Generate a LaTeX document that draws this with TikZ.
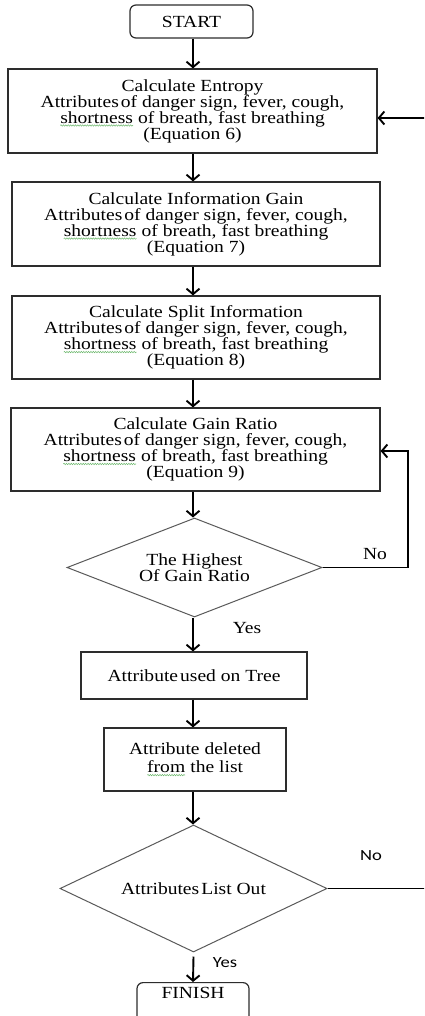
\documentclass[tikz,border=0pt]{standalone}
\usepackage{fontspec}
\setmainfont{Liberation Serif}[FakeStretch=1.15]
\newfontfamily\lblfont{Carlito}[FakeStretch=1.2]
\usetikzlibrary{shapes.geometric,arrows.meta,decorations.pathmorphing}
\definecolor{boxgray}{RGB}{45,45,45}
\definecolor{diagray}{RGB}{90,90,90}
\definecolor{squigcol}{RGB}{110,185,110}
\newcommand\squiggly[1]{\tikz[baseline=(sq.base)]{\node[shape=rectangle, draw=none, fill=none, inner sep=0pt, outer sep=0pt, minimum width=0pt, minimum height=0pt] (sq) {#1};\draw[squigline] ([yshift=-2.4pt]sq.base west) -- ([yshift=-2.4pt]sq.base east);}}
\newcommand\nsp{\hspace{0.12em}}
\tikzset{
  squigline/.style={draw=squigcol, line width=0.5pt, decorate, decoration={snake, amplitude=0.7pt, segment length=2.4pt}},
  txt/.style={font=\fontsize{17}{16}\selectfont},
  box/.style={draw=boxgray, line width=1.2pt, align=center, inner sep=0pt, txt},
  term/.style={box, rounded corners=6pt},
  dec/.style={diamond, draw=diagray, line width=1pt, align=center, inner sep=0pt, shape aspect=2.5, txt},
  arr/.style={draw=black, line width=1.9pt, -{Straight Barb[length=5.5pt,width=13pt]}},
  serlbl/.style={inner sep=0pt, txt},
  sanslbl/.style={inner sep=0pt, font=\lblfont\fontsize{15.5}{16}\selectfont}
}
\begin{document}
\begin{tikzpicture}[x=1pt,y=-1pt]
\useasboundingbox (0,0) rectangle (424,1016);
\clip (0,0) rectangle (424,1016);
\fill[white] (0,0) rectangle (424,1016);

\node[term, minimum width=123pt, minimum height=33pt] (start) at (191.5,21.5) {START};

\node[box, minimum width=369pt, minimum height=84pt] (b1) at (192.5,111)
  {Calculate Entropy\\Attributes\nsp of danger sign, fever, cough,\\\squiggly{shortness} of breath, fast breathing\\(Equation 6)};
\node[box, minimum width=368pt, minimum height=84pt] (b2) at (196,224)
  {Calculate Information Gain\\Attributes\nsp of danger sign, fever, cough,\\\squiggly{shortness} of breath, fast breathing\\(Equation 7)};
\node[box, minimum width=368pt, minimum height=83pt] (b3) at (196,337.5)
  {Calculate Split Information\\Attributes\nsp of danger sign, fever, cough,\\\squiggly{shortness} of breath, fast breathing\\(Equation 8)};
\node[box, minimum width=369pt, minimum height=83pt] (b4) at (195.5,449.5)
  {Calculate Gain Ratio\\Attributes\nsp of danger sign, fever, cough,\\\squiggly{shortness} of breath, fast breathing\\(Equation 9)};

\node[dec, minimum width=255pt, minimum height=99pt] (d1) at (194.5,567.5)
  {The Highest\\Of Gain Ratio};

\node[box, minimum width=226pt, minimum height=47pt] (b5) at (194,675.5)
  {Attribute\nsp used on Tree};
\node[box, minimum width=182pt, minimum height=63pt, font=\fontsize{17}{18}\selectfont] (b6) at (195,759.5)
  {Attribute deleted\\\squiggly{from} the list};

\node[dec, minimum width=267pt, minimum height=127pt] (d2) at (193.5,888.5)
  {Attributes\nsp List Out};

\node[term, anchor=north, minimum width=112pt, text height=15.5pt, text depth=25pt] (fin) at (193,982) {FINISH};

% main flow
\draw[arr] (start.south -| 193,0) -- (b1.north -| 193,0);
\draw[arr] (b1.south -| 193,0) -- (b2.north -| 193,0);
\draw[arr] (b2.south -| 193,0) -- (b3.north -| 193,0);
\draw[arr] (b3.south -| 193,0) -- (b4.north -| 193,0);
\draw[arr] (b4.south -| 193,0) -- (d1.north -| 193,0);
\draw[arr] (d1.south -| 193,0) -- (b5.north -| 193,0);
\draw[arr] (b5.south -| 193,0) -- (b6.north -| 193,0);
\draw[arr] (b6.south -| 193,0) -- (d2.north -| 193,0);
\draw[arr] ([yshift=-4pt]d2.south) -- (fin.north);

% loop from first decision
\coordinate (in4) at ([yshift=-1.5pt]b4.east);
\draw[arr] (d1.east) -- (408,567.5) |- (in4);
\node[serlbl] (no1) at (375,554) {No};
\node[serlbl] (yes1) at (247,628) {Yes};

% loop from second decision
\coordinate (out2) at (428,888.5);
\coordinate (in1) at ([yshift=-7pt]b1.east);
\draw[arr] (d2.east) -- (out2) |- (in1);
\node[sanslbl] (no2) at (371,856) {No};
\node[sanslbl] (yes2) at (225,963) {Yes};
\end{tikzpicture}
\end{document}
